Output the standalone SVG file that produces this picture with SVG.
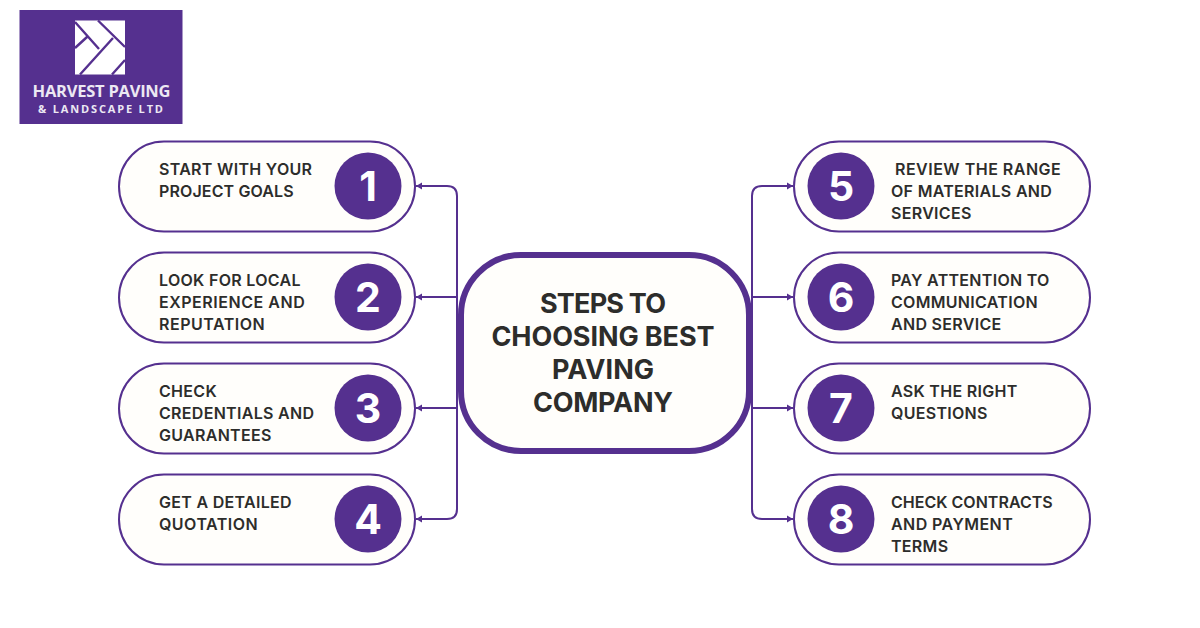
<svg xmlns="http://www.w3.org/2000/svg" width="1200" height="628" viewBox="0 0 1200 628">
<style>
.pill{fill:#fffefb;stroke:#55308f;stroke-width:2}
.dot{fill:#55308f}
.num{font-family:Inter,"Liberation Sans",sans-serif;font-weight:700;font-size:41px;fill:#fff;text-anchor:middle}
.t{font-family:Inter,"Liberation Sans",sans-serif;font-weight:600;font-size:16px;fill:#2d2d2b;letter-spacing:.3px}
.h{font-family:Inter,"Liberation Sans",sans-serif;font-weight:700;font-size:27px;fill:#2d2d2b;text-anchor:middle}
.c{fill:none;stroke:#55308f;stroke-width:2}
.lg{font-family:"Open Sans","Liberation Sans",sans-serif;fill:#ece8f3;text-anchor:middle;font-weight:700}
</style>
<defs><marker id="a" markerUnits="userSpaceOnUse" markerWidth="7" markerHeight="8" refX="6" refY="4" orient="auto"><path d="M0 .5L6 4L0 7.500Z" fill="#55308f"/></marker></defs>
<g id="logo">
<rect x="19.500" y="10" width="163" height="114" fill="#55308f"/>
<rect x="75" y="20.500" width="50" height="54" fill="#fff"/>
<path d="M75 22L99 49M98 20.500L125 47M75 48L87 37M80 74.500L113 38M112 74.500L125 60" fill="none" stroke="#55308f" stroke-width="2.400"/>
<text class="lg" x="101.500" y="96.500" font-size="16.500" textLength="138">HARVEST PAVING</text>
<text class="lg" x="100.500" y="113" font-size="11" textLength="125" font-weight="600">&amp; LANDSCAPE LTD</text>
</g>
<g id="connectors">
<path class="c" marker-end="url(#a)" d="M457 297H416"/>
<path class="c" marker-end="url(#a)" d="M457 408H416"/>
<path class="c" marker-end="url(#a)" d="M457 300V196Q457 186 447 186H416"/>
<path class="c" marker-end="url(#a)" d="M457 300V509Q457 519 447 519H416"/>
<path class="c" marker-end="url(#a)" d="M752 297H793"/>
<path class="c" marker-end="url(#a)" d="M752 408H793"/>
<path class="c" marker-end="url(#a)" d="M752 300V196Q752 186 762 186H793"/>
<path class="c" marker-end="url(#a)" d="M752 300V509Q752 519 762 519H793"/>
</g>
<g id="center">
<rect x="461" y="255" width="288" height="196" rx="60" fill="#fffefb" stroke="#55308f" stroke-width="6"/>
<text class="h" x="603" y="313" textLength="126">STEPS TO</text>
<text class="h" x="603" y="346" textLength="223">CHOOSING BEST</text>
<text class="h" x="603" y="379" textLength="102">PAVING</text>
<text class="h" x="603" y="412" textLength="140">COMPANY</text>
</g>
<g id="n1"><rect class="pill" x="119" y="141.500" width="296" height="90" rx="45"/><circle class="dot" cx="368" cy="186" r="33.500"/><text class="num" x="368" y="201">1</text>
<text class="t" x="159" y="175">START WITH YOUR</text><text class="t" x="159" y="197" textLength="135">PROJECT GOALS</text></g>
<g id="n2"><rect class="pill" x="119" y="252.500" width="296" height="90" rx="45"/><circle class="dot" cx="368" cy="297" r="33.500"/><text class="num" x="368" y="312">2</text>
<text class="t" x="159" y="286">LOOK FOR LOCAL</text><text class="t" x="159" y="308" textLength="146">EXPERIENCE AND</text><text class="t" x="159" y="330" textLength="106">REPUTATION</text></g>
<g id="n3"><rect class="pill" x="119" y="363.500" width="296" height="90" rx="45"/><circle class="dot" cx="368" cy="408" r="33.500"/><text class="num" x="368" y="423">3</text>
<text class="t" x="159" y="397">CHECK</text><text class="t" x="159" y="419">CREDENTIALS AND</text><text class="t" x="159" y="441">GUARANTEES</text></g>
<g id="n4"><rect class="pill" x="119" y="474.500" width="296" height="90" rx="45"/><circle class="dot" cx="368" cy="519" r="33.500"/><text class="num" x="368" y="534">4</text>
<text class="t" x="159" y="508">GET A DETAILED</text><text class="t" x="159" y="530" textLength="99">QUOTATION</text></g>
<g id="n5"><rect class="pill" x="794" y="141.500" width="296" height="90" rx="45"/><circle class="dot" cx="841" cy="186" r="33.500"/><text class="num" x="841" y="201">5</text>
<text class="t" x="895" y="175" textLength="166">REVIEW THE RANGE</text><text class="t" x="891" y="197">OF MATERIALS AND</text><text class="t" x="891" y="219">SERVICES</text></g>
<g id="n6"><rect class="pill" x="794" y="252.500" width="296" height="90" rx="45"/><circle class="dot" cx="841" cy="297" r="33.500"/><text class="num" x="841" y="312">6</text>
<text class="t" x="891" y="286">PAY ATTENTION TO</text><text class="t" x="891" y="308">COMMUNICATION</text><text class="t" x="891" y="330">AND SERVICE</text></g>
<g id="n7"><rect class="pill" x="794" y="363.500" width="296" height="90" rx="45"/><circle class="dot" cx="841" cy="408" r="33.500"/><text class="num" x="841" y="423">7</text>
<text class="t" x="891" y="397">ASK THE RIGHT</text><text class="t" x="891" y="419">QUESTIONS</text></g>
<g id="n8"><rect class="pill" x="794" y="474.500" width="296" height="90" rx="45"/><circle class="dot" cx="841" cy="519" r="33.500"/><text class="num" x="841" y="534">8</text>
<text class="t" x="891" y="508" textLength="162">CHECK CONTRACTS</text><text class="t" x="891" y="530" textLength="122">AND PAYMENT</text><text class="t" x="891" y="552">TERMS</text></g>
</svg>
